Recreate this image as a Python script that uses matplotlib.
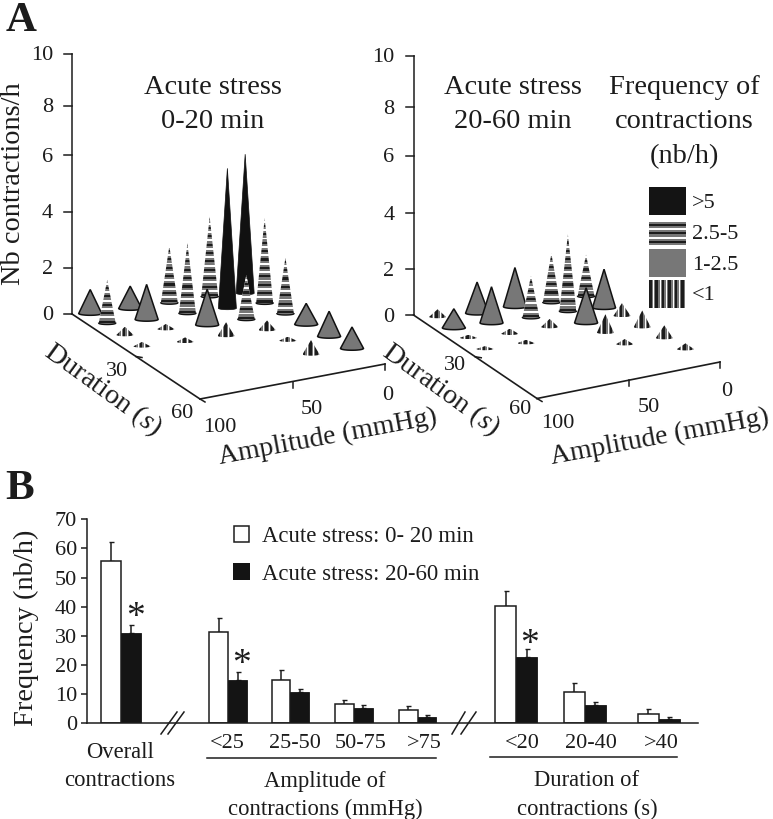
import matplotlib

matplotlib.use("Agg", force=True)
import matplotlib.pyplot as plt
import numpy as np
from matplotlib.patches import Polygon, Rectangle

plt.rcParams["font.family"] = ["Liberation Serif", "DejaVu Serif"]
plt.rcParams["mathtext.fontset"] = "custom"
plt.rcParams["mathtext.it"] = "Liberation Serif:italic"
plt.rcParams["mathtext.rm"] = "Liberation Serif"

INK = "#1c1c1c"
GRAY = "#777777"

# panel A, acute stress 0-20 min
amp_early = [92, 91, 91, 91, 72, 72, 70, 70, 52, 51, 50, 49,
             31, 31, 30, 28, 26, 25, 14, 12, 10, 8, 6, 4]
dur_early = [1.6, 8.7, 17, 25, 3, 10.7, 18, 27, 4, 11.6, 20, 28,
             4.7, 13, 21, 29, 37, 47, 6.6, 14, 22, 30, 39, 48]
nb_early = [1.04, 1.88, 0.36, 0.19, 0.97, 1.52, 0.22, 0.19, 2.39, 2.86, 1.55, 0.59,
            3.21, 5.33, 1.93, 0.41, 0.17, 0.62, 5.3, 3.39, 2.36, 0.91, 1.09, 0.93]
kind_early = ["gray", "band", "vert", "vert", "gray", "gray", "vert", "vert",
              "band", "band", "gray", "vert", "band", "black", "band", "vert",
              "vert", "vert", "black", "band", "band", "gray", "gray", "gray"]

# panel A, acute stress 20-60 min
amp_late = [91, 91, 91, 91, 72, 72, 71, 70, 52, 52, 50,
            34, 32.5, 32, 30, 29, 15.5, 15, 12.5, 11, 8.5, 6.5]
dur_late = [3.7, 11.6, 18.7, 26.7, 6, 13, 21, 28, 6.6, 14.4, 21.7,
            8.3, 15, 23.4, 31, 39.5, 8.7, 17, 23.5, 32, 40.5, 49]
nb_late = [0.33, 0.83, 0.13, 0.12, 1.35, 1.57, 0.22, 0.14, 1.7, 1.81, 0.35,
           2.11, 3.1, 1.52, 0.8, 0.22, 1.81, 1.67, 0.55, 0.72, 0.55, 0.25]
kind_late = ["vert", "gray", "vert", "vert", "gray", "gray", "vert", "vert",
             "gray", "band", "vert", "band", "band", "gray", "vert", "vert",
             "band", "gray", "vert", "vert", "vert", "vert"]

z_ticks = [0, 2, 4, 6, 8, 10]
legend_labels = [">5", "2.5-5", "1-2.5", "<1"]
legend_kinds = ["black", "band", "gray", "vert"]

# panel B
bar_labels = ["<25", "25-50", "50-75", ">75", "<20", "20-40", ">40"]
white_vals = [55.8, 31.2, 14.9, 6.5, 4.7, 40.4, 10.8, 3.3]
white_err = [6.5, 5.1, 3.3, 1.6, 1.2, 5.0, 3.0, 1.5]
black_vals = [31.1, 14.9, 10.6, 5.3, 2.2, 22.9, 6.4, 1.6]
black_err = [2.8, 2.7, 1.0, 1.0, 0.5, 2.6, 1.0, 0.7]
bar_left = [100.7, 209, 271.7, 334.7, 399, 495.3, 563.7, 638]
bar_width = [20, 19, 18.7, 19, 18.7, 21, 21, 20.8]


def z_rise(z, rises):
    return np.interp(z, z_ticks, rises)


def stripes(ax, clip, kind, x0, y0, x1, y1, zorder):
    # stripes are rectangles clipped to the cone or the legend swatch
    if kind == "band":
        pattern = [(GRAY, 2.2), (INK, 2.1), (GRAY, 2.2), ("white", 1.9)]
    else:
        pattern = [(INK, 2.6), (GRAY, 1.8), ("white", 1.0), (GRAY, 1.0)]
    pos = y1 if kind == "band" else x0
    end = y0 if kind == "band" else x1
    i = 0
    while (pos > end) if kind == "band" else (pos < end):
        color, size = pattern[i % 4]
        if kind == "band":
            rect = Rectangle((x0, pos - size), x1 - x0, size, fc=color, ec="none", zorder=zorder)
            pos -= size
        else:
            rect = Rectangle((pos, y0), size, y1 - y0, fc=color, ec="none", zorder=zorder)
            pos += size
        ax.add_patch(rect)
        rect.set_clip_path(clip)
        i += 1


def draw_cone(ax, x, y, rise, kind, zorder):
    width = {"gray": 23, "band": 17, "black": 18, "vert": 17}[kind]
    t = np.linspace(0, np.pi, 25)
    arc = np.column_stack([x + width / 2 * np.cos(t), y + width * 0.08 * np.sin(t)])
    verts = np.vstack([[x, y - rise], arc])
    if kind == "gray":
        ax.add_patch(Polygon(verts, fc=GRAY, ec="#111111", lw=1.1, zorder=zorder))
    elif kind == "black":
        ax.add_patch(Polygon(verts, fc="#111111", ec="#111111", lw=0.5, zorder=zorder))
    else:
        clip = Polygon(verts, fc="white", ec="none", zorder=zorder)
        ax.add_patch(clip)
        stripes(ax, clip, kind, x - width / 2, y - rise, x + width / 2, y + width * 0.1, zorder)
        if kind == "band":
            ax.plot(arc[:, 0], arc[:, 1], color="#111111", lw=1.0, zorder=zorder)


def label(ax, x, y, text, **kw):
    # va="center" sits a little high for this font
    kw.setdefault("ha", "center")
    kw.setdefault("va", "center")
    kw.setdefault("color", INK)
    ax.text(x, y + 2, text, **kw)


def draw_panel(ax, amps, durs, nbs, kinds, corner, amp_end, dur_start, tick_y, title, title_x):
    corner = np.array(corner)
    amp_vec = np.array(amp_end) - corner
    dur_vec = np.array(dur_start) - corner
    rises = [tick_y[0] - v for v in tick_y]

    def project(amp, dur):
        return corner + (100 - amp) / 100 * amp_vec + (60 - dur) / 60 * dur_vec

    # z axis
    zx = dur_start[0]
    ax.plot([zx, zx], [tick_y[0], tick_y[-1]], color=INK, lw=1.1)
    for value, y in zip(z_ticks, tick_y):
        ax.plot([zx - 8, zx], [y, y], color=INK, lw=1.1)
        label(ax, zx - 19, y, str(value), ha="right", fontsize=16)

    # floor axes
    ax.plot([dur_start[0], corner[0]], [dur_start[1], corner[1]], color=INK, lw=1.2)
    ax.plot([corner[0], amp_end[0]], [corner[1], amp_end[1]], color=INK, lw=1.2)
    for amp in (100, 50, 0):
        px, py = project(amp, 60)
        ax.plot([px, px + (5 if amp == 100 else 0)], [py, py + (3 if amp == 100 else 6)], color=INK, lw=1.1)
    mid = project(100, 30)
    ax.plot([mid[0], mid[0] + 6], [mid[1], mid[1] + 1], color=INK, lw=1.1)

    # far cones first so the near ones overlap them
    bases = [project(a, d) for a, d in zip(amps, durs)]
    for rank, i in enumerate(np.argsort([b[1] for b in bases])):
        x, y = bases[i]
        draw_cone(ax, x, y, float(z_rise(nbs[i], rises)), kinds[i], 3 + rank)

    label(ax, title_x, 85, title.split("\n")[0], fontsize=20.4)
    label(ax, title_x, 119, title.split("\n")[1], fontsize=20.4)


fig = plt.figure(figsize=(7.73, 8.19), dpi=100)

# bars
ax_bar = fig.add_axes([86.7 / 773, (819 - 723.3) / 819, (698 - 86.7) / 773, 204 / 819])
ax_bar.set_xlim(86.7, 698)
ax_bar.set_ylim(0, 70)
left = np.array(bar_left)
width = np.array(bar_width)
ax_bar.bar(left, white_vals, width=width, align="edge", color="white", edgecolor=INK, linewidth=1.1, zorder=2)
ax_bar.bar(left + width, black_vals, width=width, align="edge", color="#141414", edgecolor="#141414", linewidth=0.6, zorder=2)
ax_bar.errorbar(left + width / 2, white_vals, yerr=[np.zeros(8), white_err], fmt="none", ecolor=INK, elinewidth=1.1, capsize=1.8, zorder=1)
ax_bar.errorbar(left + width * 1.5, black_vals, yerr=[np.zeros(8), black_err], fmt="none", ecolor=INK, elinewidth=1.1, capsize=1.8, zorder=1)
ax_bar.spines[["top", "right"]].set_visible(False)
ax_bar.spines[["left", "bottom"]].set_linewidth(1.1)
ax_bar.spines[["left", "bottom"]].set_color(INK)
ax_bar.set_xticks([])
ax_bar.set_yticks(range(0, 71, 10))
ax_bar.tick_params(axis="y", labelsize=16, length=4, width=1.1, pad=3, labelcolor=INK, color=INK)
for tick in ax_bar.get_yticklabels():
    tick.set_va("center_baseline")

# everything else in figure pixels
ax = fig.add_axes([0, 0, 1, 1])
ax.set_xlim(0, 773)
ax.set_ylim(819, 0)
ax.axis("off")
ax.patch.set_alpha(0)

draw_panel(ax, amp_early, dur_early, nb_early, kind_early, (200, 399), (385, 364), (72, 314),
           [314, 268, 212, 155, 106, 54], "Acute stress\n0-20 min", 213)
draw_panel(ax, amp_late, dur_late, nb_late, kind_late, (537, 398.5), (720, 362), (413.5, 315),
           [315, 269, 213, 156, 107, 56], "Acute stress\n20-60 min", 513)

ax.text(21, 31, "A", ha="center", va="baseline", fontsize=31, fontweight="bold", color=INK)
ax.text(20, 499, "B", ha="center", va="baseline", fontsize=31, fontweight="bold", color=INK)
ax.text(14, 184, "Nb contractions/h", rotation=90, ha="center", va="center", fontsize=20.4, color=INK)

for x, y, text in [(117, 369, "30"), (182, 412, "60"), (220, 426, "100"), (312, 408, "50"), (388, 394, "0"),
                   (455, 364, "30"), (520, 407, "60"), (558, 422, "100"), (649, 406, "50"), (727, 390, "0")]:
    label(ax, x, y, text, fontsize=16)
for x in (103, 441):
    ax.text(x, 390, "Duration ($\\mathit{s}$)", rotation=-36, rotation_mode="anchor",
            ha="center", va="center", fontsize=20.4, color=INK)
for x in (328, 660):
    ax.text(x, 437, "Amplitude (mmHg)", rotation=10.5, rotation_mode="anchor",
            ha="center", va="center", fontsize=20, color=INK)

for y, line in zip((85, 119, 155), ("Frequency of", "contractions", "(nb/h)")):
    label(ax, 684, y, line, fontsize=20.4)

# cone legend
swatch_y = [(187, 215), (220, 245), (249, 277), (280, 308)]
for (y0, y1), kind, text in zip(swatch_y, legend_kinds, legend_labels):
    if kind in ("black", "gray"):
        ax.add_patch(Rectangle((649, y0), 37, y1 - y0, fc="#141414" if kind == "black" else GRAY, ec="none"))
    else:
        clip = Rectangle((649, y0), 37, y1 - y0, fc="white", ec="none")
        ax.add_patch(clip)
        stripes(ax, clip, kind, 649, y0, 686, y1, 2)
    label(ax, 692, (y0 + y1) / 2, text, ha="left", fontsize=16)

# panel B text
ax.text(26, 628, "Frequency (nb/h)", rotation=90, ha="center", va="center", fontsize=20.4, color=INK)
ax.add_patch(Rectangle((233.5, 525.5), 15.5, 16, fc="white", ec=INK, lw=1.1))
ax.add_patch(Rectangle((233, 562.5), 17, 17.5, fc="#141414", ec="none"))
label(ax, 262, 534, "Acute stress: 0- 20 min", ha="left", fontsize=16.4)
label(ax, 262, 572, "Acute stress: 20-60 min", ha="left", fontsize=16.4)

label_x = [227, 295, 361, 424, 522, 591, 661]
for x, text in zip(label_x, bar_labels):
    label(ax, x, 742, text, fontsize=16)
for x, y, line in [(120, 750, "Overall"), (120, 778, "contractions"),
                   (325, 779, "Amplitude of"), (325, 807, "contractions (mmHg)"),
                   (587, 779, "Duration of"), (587, 807, "contractions (s)")]:
    label(ax, x, y, line, fontsize=16.3)
ax.plot([207, 436], [758, 758], color=INK, lw=1.1)
ax.plot([490, 677], [757, 757], color=INK, lw=1.1)

# axis breaks and significance stars
for x0, x1 in [(161, 177), (168, 184), (452, 465), (461, 476)]:
    ax.plot([x0, x1], [734, 712], color=INK, lw=1.1)
for x, y in [(136, 616), (242, 663), (530, 643)]:
    label(ax, x, y, "*", fontsize=27)

fig.savefig("out.png", dpi=100)
plt.close(fig)
